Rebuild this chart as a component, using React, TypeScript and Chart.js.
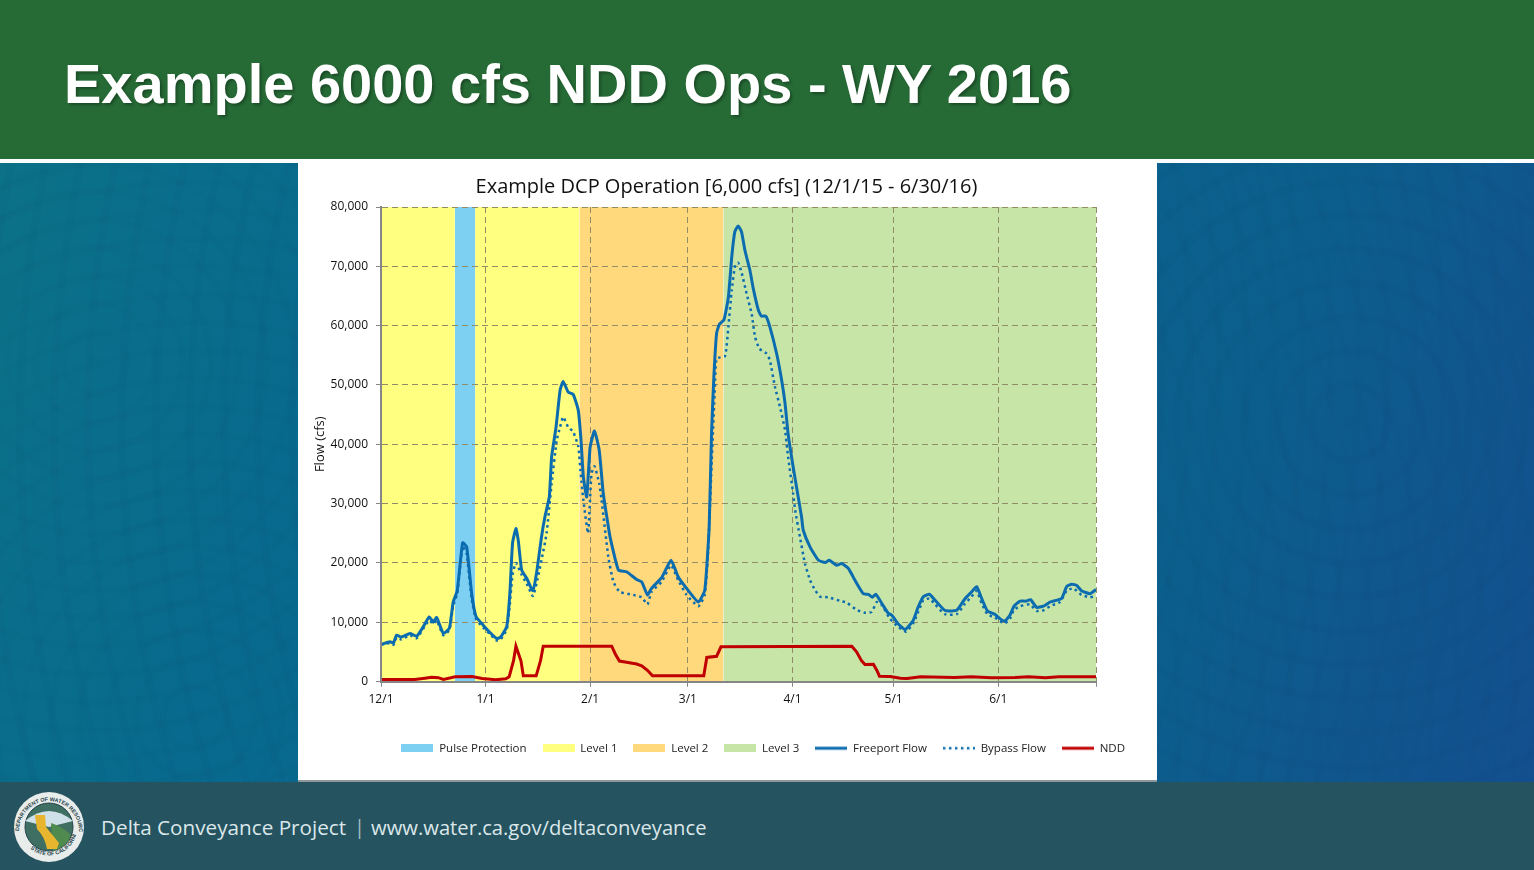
import { useEffect, useRef } from "react";
import { Chart, registerables } from "chart.js";

Chart.register(...registerables);

const CHART_TITLE = "Example DCP Operation [6,000 cfs] (12/1/15 - 6/30/16)";
const AXIS_FONT = "'Open Sans', sans-serif";

// x axis is days since 12/1/15
const tickDays = [0, 31, 62, 91, 122, 152, 183, 212];
const tickLabels = ["12/1", "1/1", "2/1", "3/1", "4/1", "5/1", "6/1", ""];

const bandTop = 80000;
const pulseRanges = [[21.9, 27.9]];
const level1Ranges = [[0, 21.9], [27.9, 58.8]];
const level2Ranges = [[58.8, 101.5]];
const level3Ranges = [[101.5, 212]];

const freeportDays = [
  0, 2.7, 3.7, 4.6, 6, 8.6, 10.6, 12.5, 14.3, 15.5, 16.5, 18.5, 20.3, 21.4, 22.6, 24.2, 25.4, 26.9, 28.2, 30.3,
  32.3, 34.3, 35.5, 37.3, 38.2, 39, 40, 40.7, 41.7, 43.2, 45, 46.1, 47.6, 48.6, 49.9, 50.6, 51.9, 53.1, 54, 55.5,
  57, 58.5, 59.3, 60, 61, 62, 63.3, 64.7, 65.9, 67.1, 67.9, 70.4, 72.8, 75.8, 77.3, 79, 80.2, 83.2, 86, 88.1,
  90.6, 94.1, 96, 97.3, 98, 98.7, 99.5, 100.3, 101.7, 103, 104, 104.9, 105.9, 106.9, 107.9, 109.4, 110.4, 111.9, 112.8, 114.1,
  115.3, 117.3, 118.8, 119.8, 120.7, 122.2, 123.2, 124.7, 125.2, 127.2, 129.7, 131.7, 132.9, 135.1, 136.6, 138.6, 140.5, 143, 144.5, 145.7,
  146.7, 148.5, 150.4, 151.4, 153.4, 155.4, 157.8, 159.3, 160.8, 162.6, 164.3, 167.2, 170.7, 173.2, 175.1, 176.6, 178.1, 179.8, 182, 183.5,
  185, 186.5, 187.7, 189.5, 191.2, 192.6, 194.4, 196.4, 198.4, 199.3, 201.8, 203.3, 204.8, 206.3, 207.7, 210.2, 212,
];
const freeportFlow = [
  6240, 6700, 6500, 7800, 7500, 8100, 7650, 9200, 10900, 10000, 10800, 8100, 9050, 13400, 15300, 23400, 22700, 14800, 10900, 9500,
  8260, 7250, 7500, 9300, 14800, 23300, 25800, 23800, 18800, 17400, 15300, 18200, 24400, 27750, 31100, 37900, 42900, 49100, 50600, 48800,
  48400, 45700, 40700, 34500, 31100, 39500, 42250, 39000, 31700, 27200, 24400, 18800, 18500, 17200, 16800, 14600, 15700, 17500, 20450, 17650,
  15700, 13400, 15400, 26000, 41800, 51400, 58700, 60200, 61000, 64800, 71600, 75800, 76800, 75800, 72700, 69300, 66200, 62600, 61600, 61600,
  59800, 55300, 50800, 46900, 41800, 36200, 32800, 27750, 25500, 22700, 20450, 20060, 20450, 19600, 19900, 19050, 17100, 14800, 14700, 14200,
  14700, 13150, 11500, 11200, 9700, 8770, 10300, 12600, 14300, 14700, 13700, 12000, 12000, 14000, 15100, 16000, 14000, 11900, 11350, 10600,
  10200, 11200, 12700, 13550, 13550, 13800, 12500, 12700, 13400, 13550, 14000, 16000, 16400, 16200, 15300, 14800, 15500,
];

const bypassDays = [
  0, 2.7, 3.7, 4.6, 6, 8.6, 10.6, 12.5, 14.3, 15.5, 16.5, 18.5, 20.3, 21.4, 22.6, 24.2, 25.4, 26.9, 28.2, 30.3,
  32.3, 34.3, 35.5, 37.3, 38.2, 39, 40, 41.7, 43.2, 45, 46.1, 47.6, 49.1, 50.6, 52.1, 53.1, 54, 55.5, 57, 58.5,
  59.3, 60, 61.4, 62.4, 63.3, 64.7, 65.4, 67.4, 68.9, 70.8, 74.8, 77.3, 79, 80.2, 83.2, 86, 88.1, 90.6, 94.1, 96,
  97, 98, 99, 99.5, 102, 103, 104, 105, 105.9, 106.9, 108.4, 109.9, 110.9, 112.2, 114.3, 115.3, 116.8, 118.3, 119.8, 120.7,
  122.2, 122.8, 124.2, 125.7, 127.2, 128.7, 130.2, 132.6, 136.1, 138.1, 141, 143.5, 145.5, 147, 148.5, 150.9, 153.4, 155.7, 157.8, 159.3,
  160.8, 162.6, 164.3, 167.2, 170.7, 173.2, 175.1, 176.6, 178.1, 179.8, 182, 183.5, 185, 186.5, 187.7, 189.5, 192.4, 194.4, 196.4, 198.4,
  201.3, 203.3, 205.3, 207.7, 210.2, 212,
];
const bypassFlow = [
  6200, 6500, 6200, 7400, 7100, 7800, 7300, 8900, 10300, 9700, 10300, 7800, 8700, 12800, 14800, 22800, 21500, 13800, 10500, 9100,
  8000, 6900, 7100, 8800, 13000, 18000, 20000, 18000, 16500, 14400, 16500, 20500, 25000, 33400, 40700, 42900, 44600, 42900, 42100, 39600,
  34500, 30600, 25000, 35000, 36300, 33400, 30600, 21000, 16800, 15100, 14600, 14200, 13000, 15100, 16800, 19600, 17100, 14600, 12700, 14600,
  22100, 36200, 49700, 54450, 54850, 59800, 66000, 70200, 70600, 69000, 65400, 62000, 58100, 56100, 55300, 54200, 49700, 46300, 42400, 37900,
  31700, 28900, 24400, 19900, 17100, 15400, 14300, 14200, 13600, 13300, 12100, 11600, 11750, 13400, 12900, 10600, 9200, 8400, 9800, 11750,
  13700, 14000, 13000, 11350, 11350, 13150, 14300, 15300, 13150, 11350, 10800, 10200, 9800, 10600, 12100, 12700, 13000, 11900, 12000, 12700,
  13400, 15300, 15700, 14600, 14200, 14400,
];

const nddDays = [
  0, 10, 13, 15, 17, 18.5, 22, 27, 30, 34, 37, 38, 39.3, 40, 41.5, 42.2, 46, 47.3, 48.1, 68.4,
  69.5, 70.7, 72.8, 75.8, 77.3, 79, 80.5, 95.7, 96.6, 99.5, 100.8, 139.6, 141, 142.5, 143.5, 146, 147, 147.8, 151, 154,
  156, 160, 170, 175, 181, 188, 192, 197, 201, 212,
];
const nddFlow = [
  350, 350, 550, 700, 650, 350, 800, 850, 500, 300, 450, 800, 3500, 5950, 3500, 950, 950, 3500, 5950, 5950,
  4600, 3450, 3250, 2950, 2650, 1900, 950, 950, 4050, 4250, 5850, 5950, 5000, 3480, 2870, 2900, 1900, 900, 850, 560,
  500, 790, 670, 790, 620, 670, 790, 620, 790, 790,
];

// turn [start, end] day ranges into a filled block, with gaps between the ranges
function bandPoints(ranges: number[][]) {
  const pts: { x: number; y: number | null }[] = [];
  ranges.forEach(([a, b], i) => {
    if (i > 0) pts.push({ x: a, y: null });
    pts.push({ x: a, y: bandTop }, { x: b, y: bandTop });
  });
  return pts;
}

function zip(days: number[], values: number[]) {
  return days.map((d, i) => ({ x: d, y: values[i] }));
}

function bandDataset(label: string, ranges: number[][], color: string) {
  return {
    label,
    data: bandPoints(ranges),
    borderWidth: 0,
    borderColor: color,
    backgroundColor: color,
    fill: "origin",
    pointRadius: 0,
    tension: 0,
    order: 5,
    spanGaps: false,
  };
}

// little pictures for the legend keys
function legendIcon(ds: any) {
  const c = document.createElement("canvas");
  c.width = 32;
  c.height = 8;
  const ctx = c.getContext("2d")!;
  if (ds.fill) {
    ctx.fillStyle = ds.backgroundColor;
    ctx.fillRect(0, 0, 32, 8);
  } else {
    ctx.strokeStyle = ds.borderColor;
    ctx.lineWidth = ds.borderWidth;
    ctx.setLineDash(ds.borderDash || []);
    ctx.beginPath();
    ctx.moveTo(0, 4);
    ctx.lineTo(32, 4);
    ctx.stroke();
  }
  return c;
}

// bands are opaque, so put the grid back between the bands and the flow lines
const gridOverBands = {
  id: "gridOverBands",
  beforeDatasetDraw(chart: any, args: any) {
    if (args.index !== 4) return;
    chart.scales.x.drawGrid(chart.chartArea);
    chart.scales.y.drawGrid(chart.chartArea);
  },
};

function FlowChart() {
  const canvasRef = useRef<HTMLCanvasElement | null>(null);

  useEffect(() => {
    if (!canvasRef.current) return;
    const chart = new Chart(canvasRef.current, {
      type: "line",
      data: {
        datasets: [
          bandDataset("Pulse Protection", pulseRanges, "#7dd0f2"),
          bandDataset("Level 1", level1Ranges, "#ffff80"),
          bandDataset("Level 2", level2Ranges, "#ffd97c"),
          bandDataset("Level 3", level3Ranges, "#c8e5a8"),
          {
            label: "Freeport Flow",
            data: zip(freeportDays, freeportFlow),
            borderColor: "#0b6cb0",
            backgroundColor: "#0b6cb0",
            borderWidth: 3,
            pointRadius: 0,
            tension: 0.15,
            order: 3,
          },
          {
            label: "Bypass Flow",
            data: zip(bypassDays, bypassFlow),
            borderColor: "#0b6cb0",
            backgroundColor: "#0b6cb0",
            borderWidth: 2.5,
            borderDash: [2.5, 3.5],
            pointRadius: 0,
            tension: 0.15,
            order: 2,
          },
          {
            label: "NDD",
            data: zip(nddDays, nddFlow),
            borderColor: "#c00000",
            backgroundColor: "#c00000",
            borderWidth: 3,
            pointRadius: 0,
            tension: 0,
            order: 1,
          },
        ] as any,
      },
      plugins: [gridOverBands],
      options: {
        animation: false,
        responsive: false,
        layout: { padding: { left: 14, right: 16, bottom: 16 } },
        plugins: {
          title: {
            display: true,
            text: CHART_TITLE,
            color: "#111",
            font: { family: AXIS_FONT, size: 20, weight: "normal" },
            padding: { top: 12, bottom: 8 },
          },
          legend: {
            position: "bottom",
            align: "end",
            labels: {
              usePointStyle: true,
              pointStyleWidth: 32,
              boxHeight: 8,
              padding: 16,
              color: "#222",
              font: { family: AXIS_FONT, size: 11.5 },
              generateLabels: (c: any) =>
                c.data.datasets.map((ds: any, i: number) => ({
                  text: ds.label,
                  datasetIndex: i,
                  pointStyle: legendIcon(ds),
                  fontColor: "#222",
                  lineWidth: 0,
                })),
            },
          },
          tooltip: { enabled: false },
        },
        scales: {
          x: {
            type: "linear",
            min: 0,
            max: 212,
            afterBuildTicks: (s: any) => {
              s.ticks = tickDays.map((d) => ({ value: d }));
            },
            afterFit: (s: any) => {
              s.height = 45;
            },
            ticks: {
              autoSkip: false,
              maxRotation: 0,
              color: "#111",
              padding: 6,
              font: { family: AXIS_FONT, size: 12 },
              callback: (_v: any, i: number) => tickLabels[i],
            },
            grid: {
              color: "#8f8c66",
              tickColor: "#868686",
              tickBorderDash: [],
              tickLength: 5,
              z: -1,
            },
            border: { color: "#868686", width: 2, z: 1, dash: [6, 4] },
          },
          y: {
            min: 0,
            max: 80000,
            afterFit: (s: any) => {
              s.width = 69;
            },
            ticks: {
              stepSize: 10000,
              color: "#111",
              padding: 8,
              font: { family: AXIS_FONT, size: 12 },
            },
            title: {
              display: true,
              text: "Flow (cfs)",
              color: "#111",
              padding: 0,
              font: { family: AXIS_FONT, size: 13 },
            },
            grid: {
              color: "#8f8c66",
              tickColor: "#868686",
              tickBorderDash: [],
              tickLength: 5,
              z: -1,
            },
            border: { color: "#868686", width: 2, z: 1, dash: [6, 4] },
          },
          // empty axis, keeps the plot clear of the legend's right end
          spacer: {
            type: "linear",
            position: "right",
            grid: { display: false },
            border: { display: false },
            ticks: { display: false },
            afterFit: (s: any) => {
              s.width = 45;
            },
          },
        },
      } as any,
    });
    return () => chart.destroy();
  }, []);

  return <canvas ref={canvasRef} width={859} height={617} style={{ display: "block" }} />;
}

function Seal() {
  return (
    <svg width="72" height="72" viewBox="0 0 72 72" style={{ position: "absolute", left: 13, top: 791 }}>
      <circle cx="36" cy="36" r="35" fill="#e8ecea" />
      <circle cx="36" cy="36" r="24" fill="#3f6f62" stroke="#24424a" strokeWidth="1" />
      <path d="M12 30 Q36 10 60 30 L36 36 Z" fill="#cfe0e8" />
      <path d="M38 32 Q50 36 58 44 Q54 56 40 60 Z" fill="#4f8a4e" />
      <path d="M22 24 L32 24 L33 36 L46 52 L44 58 L34 58 Q32 46 24 38 Z" fill="#e8b52e" />
      <defs>
        <path id="sealArc" d="M6 40 A30 30 0 0 1 66 40" />
        <path id="sealArcLow" d="M9 44 A28 28 0 0 0 63 44" />
      </defs>
      <text fontSize="5.4" fill="#24424a" fontFamily="'Liberation Sans'" fontWeight="bold">
        <textPath href="#sealArc">DEPARTMENT OF WATER RESOURCES</textPath>
      </text>
      <text fontSize="5.4" fill="#24424a" fontFamily="'Liberation Sans'" fontWeight="bold">
        <textPath href="#sealArcLow" startOffset="22%">STATE OF CALIFORNIA</textPath>
      </text>
    </svg>
  );
}

const footerText = {
  position: "absolute",
  top: 813,
  color: "#dbe7ea",
  fontFamily: "'Open Sans', sans-serif",
  lineHeight: "28px",
  whiteSpace: "nowrap",
} as const;

export default function App() {
  return (
    <div style={{ position: "fixed", inset: 0, overflow: "hidden", background: "#fff" }}>
      {/* slide background, teal to blue with faint swirls */}
      <div
        style={{
          position: "absolute",
          left: 0,
          top: 163,
          width: 1534,
          height: 619,
          background: [
            "repeating-radial-gradient(circle at 95px 200px, rgba(0,40,70,0.025) 0 7px, rgba(0,40,70,0) 7px 28px)",
            "repeating-radial-gradient(circle at 195px 555px, rgba(0,40,70,0.025) 0 7px, rgba(0,40,70,0) 7px 28px)",
            "repeating-radial-gradient(circle at 1350px 260px, rgba(0,30,80,0.03) 0 8px, rgba(0,30,80,0) 8px 34px)",
            "linear-gradient(110deg, #0b7288 0%, #086a8e 22%, #0b5f8c 75%, #134f8f 100%)",
          ].join(","),
        }}
      />
      {/* header */}
      <div style={{ position: "absolute", left: 0, top: 0, width: 1534, height: 159, background: "#266b36" }} />
      <div style={{ position: "absolute", left: 0, top: 159, width: 1184, height: 4, background: "#fff" }} />
      <div style={{ position: "absolute", left: 1184, top: 160, width: 350, height: 3, background: "#fff" }} />
      <div
        style={{
          position: "absolute",
          left: 64,
          top: 54,
          color: "#fff",
          font: "bold 56px 'Liberation Sans', Arial, sans-serif",
          lineHeight: "60px",
          whiteSpace: "nowrap",
          textShadow: "2px 2px 3px rgba(0,0,0,0.3)",
        }}
      >
        Example 6000 cfs NDD Ops - WY 2016
      </div>
      {/* chart panel */}
      <div
        style={{
          position: "absolute",
          left: 298,
          top: 163,
          width: 859,
          height: 617,
          background: "#fff",
          borderBottom: "2px solid #8e9699",
        }}
      >
        <FlowChart />
      </div>
      {/* footer */}
      <div style={{ position: "absolute", left: 0, top: 782, width: 1534, height: 88, background: "#25535f" }} />
      <Seal />
      <div style={{ ...footerText, left: 101, fontSize: 20.7 }}>Delta Conveyance Project</div>
      <div style={{ ...footerText, left: 354, fontSize: 20, opacity: 0.7 }}>|</div>
      <div style={{ ...footerText, left: 371, fontSize: 20.2 }}>www.water.ca.gov/deltaconveyance</div>
    </div>
  );
}
